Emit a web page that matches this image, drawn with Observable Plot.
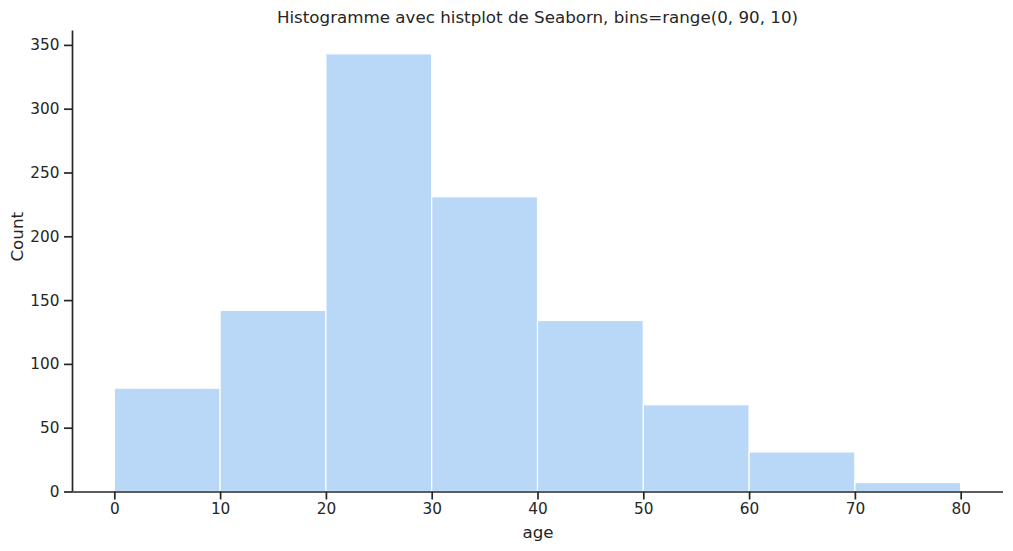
<!DOCTYPE html>
<html>
<head>
<meta charset="utf-8">
<script src="https://cdn.jsdelivr.net/npm/d3@7"></script>
<script src="https://cdn.jsdelivr.net/npm/@observablehq/plot@0.6"></script>
<style>
  html, body { margin: 0; padding: 0; background: #fff; }
  #title { width: 1013px; box-sizing: border-box; padding-left: 72px; padding-right: 10px; height: 28px; line-height: 34px; text-align: center; font-family: "DejaVu Sans", sans-serif; font-size: 16.7px; color: #262626; white-space: nowrap; }
</style>
</head>
<body>
<div id="title">Histogramme avec histplot de Seaborn, bins=range(0, 90, 10)</div>
<div id="chart"></div>
<script>
const binStarts = [0, 10, 20, 30, 40, 50, 60, 70];
const binEnds   = [10, 20, 30, 40, 50, 60, 70, 80];
const counts    = [81, 142, 343, 231, 134, 68, 31, 7];
const xTicks    = [0, 10, 20, 30, 40, 50, 60, 70, 80];
const yTicks    = [0, 50, 100, 150, 200, 250, 300, 350];

const bins = binStarts.map((s, i) => ({lo: s, hi: binEnds[i], count: counts[i]}));
const ink = "#262626";

const chart = Plot.plot({
  width: 1013,
  height: 523,
  marginLeft: 72,
  marginRight: 10,
  marginTop: 2.6,
  marginBottom: 59.5,
  style: {fontFamily: "DejaVu Sans, sans-serif", fontSize: "15.3px", color: ink, background: "#fff"},
  x: {domain: [-4, 84]},
  y: {domain: [0, 361.2]},
  marks: [
    Plot.rectY(bins, {x1: "lo", x2: "hi", y: "count", fill: "#b9d7f7", stroke: "#ffffff", strokeWidth: 1.2, inset: 0}),
    Plot.ruleY([0], {stroke: ink, strokeWidth: 1.7}),
    Plot.ruleX([-4], {stroke: ink, strokeWidth: 1.7}),
    Plot.axisX({ticks: xTicks, tickSize: 8, tickPadding: 3, tickFormat: d => String(d), stroke: ink, strokeWidth: 1.7, fill: ink, fontSize: 15.3, label: null}),
    Plot.axisY({ticks: yTicks, tickSize: 8, tickPadding: 5, tickFormat: d => String(d), stroke: ink, strokeWidth: 1.7, fill: ink, fontSize: 15.3, label: null}),
    Plot.text(["age"], {frameAnchor: "bottom", dy: 46, text: d => d, fill: ink, fontSize: 16.7}),
    Plot.text(["Count"], {frameAnchor: "left", dx: -55, rotate: -90, text: d => d, fill: ink, fontSize: 16.7})
  ]
});
document.getElementById("chart").appendChild(chart);
</script>
</body>
</html>
